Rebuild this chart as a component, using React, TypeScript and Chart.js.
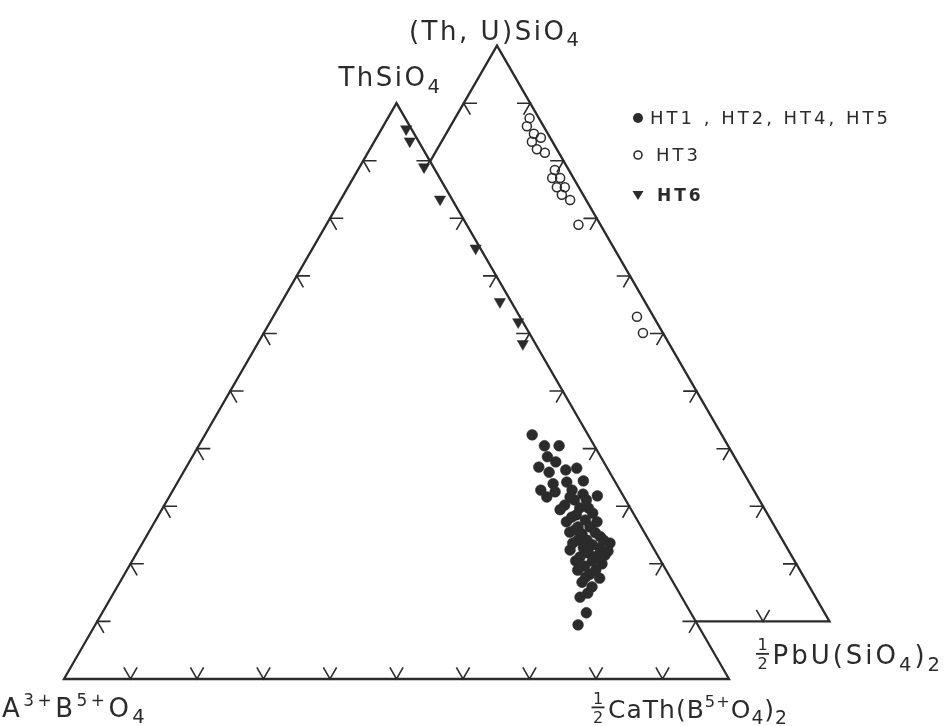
import { useEffect, useRef } from "react";
import { Chart, registerables } from "chart.js";

Chart.register(...registerables);

// ---------- DATA (mol %) ----------
// HT1, HT2, HT4, HT5 : front triangle  (ThSiO4 %, 1/2 CaTh(B5+O4)2 %; remainder = A3+B5+O4)
const HT1245_THSIO4 = [42.4, 40.5, 40.5, 38.6, 37.7, 36.8, 35.9, 36.3, 36.6, 33.9, 34.2, 34.4, 32.8, 31.6, 32.5, 32.8, 32.1, 31.8, 31.1, 30.2, 29.4, 29.7, 29.7, 28.8, 28.5, 27.3, 27.6, 26.4, 26.4, 25.5, 25.2, 25.4, 24.7, 24.1, 24.1, 23.6, 23.3, 22.8, 22.8, 22.4, 21.9, 21.4, 21.5, 21.2, 20.5, 20.0, 19.6, 18.9, 18.9, 18.2, 17.5, 16.8, 16.0, 14.9, 14.2, 11.5, 9.4, 31.6, 31.1, 28.1, 27.3, 25.9, 24.1, 23.6, 22.2, 20.5, 17.7];
const HT1245_CATH = [49.2, 52.0, 54.2, 53.4, 55.1, 53.0, 55.0, 57.3, 58.8, 56.6, 58.5, 60.9, 55.3, 56.8, 57.6, 60.0, 62.0, 64.3, 61.2, 60.2, 59.9, 62.7, 64.0, 65.1, 62.8, 61.9, 64.6, 64.1, 65.9, 63.3, 65.3, 67.2, 68.3, 66.6, 65.2, 70.3, 67.8, 66.7, 69.2, 64.9, 67.9, 69.5, 70.6, 67.0, 69.2, 70.9, 68.5, 70.5, 67.8, 70.0, 71.8, 69.5, 71.4, 71.3, 70.5, 72.8, 72.6, 60.3, 63.0, 62.3, 66.5, 63.9, 69.1, 64.7, 70.7, 66.7, 69.6];
// HT6 : front triangle
const HT6_THSIO4 = [95.5, 93.4, 88.9, 83.3, 74.8, 65.5, 62.0, 58.2];
const HT6_CATH = [3.7, 5.3, 9.7, 14.9, 24.5, 32.8, 37.3, 39.9];
// HT3 : back triangle  ((Th,U)SiO4 %, 1/2 PbU(SiO4)2 %)
const HT3_THUSIO4 = [87.4, 86.0, 84.7, 84.0, 83.3, 82.0, 81.4, 78.4, 77.0, 77.0, 75.4, 75.4, 74.1, 73.2, 68.9, 52.9, 50.1];
const HT3_PBU = [11.2, 11.5, 13.2, 14.6, 13.6, 15.0, 16.5, 19.5, 19.8, 21.0, 21.3, 22.5, 22.7, 24.4, 27.8, 44.6, 46.9];

const TICK_STEPS = [10, 20, 30, 40, 50, 60, 70, 80, 90];
const BACK_LEFT_STEPS = [10];
const BACK_BOTTOM_STEPS = [10];
const LEGEND_LABELS = ["HT1 , HT2, HT4, HT5", "HT3", "HT6"];

// ---------- GEOMETRY ----------
const INK = "#2b2b2b";
const H = Math.sqrt(3) / 2;
const BACK_SHIFT = { x: 0.1511, y: 0.0865 };
const TICK = 0.02;

type P = { x: number; y: number };
type Tri = { a: P; b: P; c: P };

const MAIN: Tri = { a: { x: 0, y: 0 }, b: { x: 1, y: 0 }, c: { x: 0.5, y: H } };
const BACK: Tri = {
  a: { x: BACK_SHIFT.x, y: BACK_SHIFT.y },
  b: { x: 1 + BACK_SHIFT.x, y: BACK_SHIFT.y },
  c: { x: 0.5 + BACK_SHIFT.x, y: H + BACK_SHIFT.y },
};

function tern(tri: Tri, top: number, right: number): P {
  const t = top / 100;
  const r = right / 100;
  return {
    x: tri.a.x + r * (tri.b.x - tri.a.x) + t * (tri.c.x - tri.a.x),
    y: tri.a.y + r * (tri.b.y - tri.a.y) + t * (tri.c.y - tri.a.y),
  };
}

function intersect(p1: P, p2: P, p3: P, p4: P): P {
  const d = (p1.x - p2.x) * (p3.y - p4.y) - (p1.y - p2.y) * (p3.x - p4.x);
  const a = p1.x * p2.y - p1.y * p2.x;
  const b = p3.x * p4.y - p3.y * p4.x;
  return {
    x: (a * (p3.x - p4.x) - (p1.x - p2.x) * b) / d,
    y: (a * (p3.y - p4.y) - (p1.y - p2.y) * b) / d,
  };
}

function ticks(p: P, q: P, steps: number[], arms: P[]): P[] {
  const out: P[] = [];
  for (const s of steps) {
    const f = s / 100;
    const e = { x: p.x + f * (q.x - p.x), y: p.y + f * (q.y - p.y) };
    out.push(
      { x: e.x + arms[0].x * TICK, y: e.y + arms[0].y * TICK },
      { x: e.x, y: e.y },
      { x: e.x + arms[1].x * TICK, y: e.y + arms[1].y * TICK },
      { x: NaN, y: NaN }
    );
  }
  return out;
}

const UP_L = { x: -0.5, y: H };
const UP_R = { x: 0.5, y: H };
const RIGHT = { x: 1, y: 0 };
const LEFT = { x: -1, y: 0 };
const DN_R = { x: 0.5, y: -H };
const DN_L = { x: -0.5, y: -H };

// scale ranges (data units = side of triangle)
const X_MIN = -0.0962, X_MAX = 1.3323, Y_MIN = -0.0707, Y_MAX = 1.0211;

type Seg = { t: string; k?: "sub" | "sup" };
function drawRich(ctx: CanvasRenderingContext2D, segs: Seg[], x: number, y: number, size: number) {
  let cx = x;
  for (const s of segs) {
    const fs = s.k === "sub" ? size * 0.75 : s.k === "sup" ? size * 0.65 : size;
    const dy = s.k === "sub" ? size * 0.25 : s.k === "sup" ? -size * 0.42 : 0;
    ctx.font = `${fs}px "DejaVu Sans"`;
    ctx.fillText(s.t, cx, y + dy);
    cx += ctx.measureText(s.t).width;
  }
  return cx;
}

function drawHalf(ctx: CanvasRenderingContext2D, cx: number, base: number) {
  ctx.save();
  (ctx as any).letterSpacing = "0px";
  ctx.font = '16px "DejaVu Sans"';
  ctx.textAlign = "center";
  ctx.fillText("1", cx, base - 14);
  ctx.fillText("2", cx, base + 5);
  ctx.fillRect(cx - 6.5, base - 11.5, 13, 1.8);
  ctx.restore();
}

const labelPlugin = {
  id: "ternaryLabels",
  afterDatasetsDraw(chart: any) {
    const { ctx } = chart;
    const sx = chart.scales.x;
    const sy = chart.scales.y;
    const px = (p: P) => ({ x: sx.getPixelForValue(p.x), y: sy.getPixelForValue(p.y) });
    ctx.save();
    ctx.fillStyle = INK;
    ctx.strokeStyle = INK;
    ctx.textBaseline = "alphabetic";
    ctx.textAlign = "left";

    ctx.letterSpacing = "2.5px";
    const c = px(MAIN.c);
    drawRich(ctx, [{ t: "ThSiO" }, { t: "4", k: "sub" }], c.x - 58, c.y - 17, 26);

    const c2 = px(BACK.c);
    drawRich(ctx, [{ t: "(Th, U)SiO" }, { t: "4", k: "sub" }], c2.x - 88, c2.y - 6, 26);

    ctx.letterSpacing = "3.5px";
    const a = px(MAIN.a);
    drawRich(ctx, [{ t: "A" }, { t: "3+", k: "sup" }, { t: "B" }, { t: "5+", k: "sup" }, { t: "O" }, { t: "4", k: "sub" }], a.x - 62, a.y + 38, 26);

    ctx.letterSpacing = "1px";
    const b = px(MAIN.b);
    drawHalf(ctx, b.x - 131, b.y + 39);
    drawRich(ctx, [{ t: "CaTh(B" }, { t: "5+", k: "sup" }, { t: "O" }, { t: "4", k: "sub" }, { t: ")" }, { t: "2", k: "sub" }], b.x - 121, b.y + 39, 25);

    ctx.letterSpacing = "3px";
    const b2 = px(BACK.b);
    drawHalf(ctx, b2.x - 67, b2.y + 43);
    drawRich(ctx, [{ t: "PbU(SiO" }, { t: "4", k: "sub" }, { t: ")" }, { t: "2", k: "sub" }], b2.x - 57, b2.y + 43, 26);

    // legend
    const lx = 638;
    const rows = [118, 155, 195];
    ctx.beginPath();
    ctx.arc(lx, rows[0], 5, 0, Math.PI * 2);
    ctx.fill();
    ctx.beginPath();
    ctx.lineWidth = 1.6;
    ctx.arc(lx, rows[1], 4, 0, Math.PI * 2);
    ctx.stroke();
    ctx.beginPath();
    ctx.moveTo(lx - 5.5, rows[2] - 4);
    ctx.lineTo(lx + 5.5, rows[2] - 4);
    ctx.lineTo(lx, rows[2] + 5);
    ctx.closePath();
    ctx.fill();
    ctx.letterSpacing = "3px";
    ctx.font = '18px "DejaVu Sans"';
    ctx.fillText(LEGEND_LABELS[0], 650, rows[0] + 6);
    ctx.fillText(LEGEND_LABELS[1], 656, rows[1] + 6);
    ctx.font = 'bold 17px "DejaVu Sans"';
    ctx.fillText(LEGEND_LABELS[2], 657, rows[2] + 6);
    ctx.restore();
  },
};

function pinRange(min: number, max: number) {
  return (scale: any) => {
    scale.min = min;
    scale.max = max;
  };
}

export default function App() {
  const ref = useRef<HTMLCanvasElement>(null);

  useEffect(() => {
    document.body.style.margin = "0";
    const j1 = intersect(BACK.c, BACK.a, MAIN.c, MAIN.b);
    const j2 = intersect(BACK.b, BACK.a, MAIN.c, MAIN.b);

    const tickPts = [
      ...ticks(MAIN.a, MAIN.b, TICK_STEPS, [UP_L, UP_R]),
      ...ticks(MAIN.a, MAIN.c, TICK_STEPS, [RIGHT, DN_R]),
      ...ticks(MAIN.c, MAIN.b, TICK_STEPS, [LEFT, DN_L]),
      ...ticks(BACK.c, BACK.b, TICK_STEPS, [LEFT, DN_L]),
      ...ticks(BACK.c, BACK.a, BACK_LEFT_STEPS, [RIGHT, DN_R]),
      ...ticks(BACK.b, BACK.a, BACK_BOTTOM_STEPS, [UP_L, UP_R]),
    ];

    const chart = new Chart(ref.current as HTMLCanvasElement, {
      type: "scatter",
      data: {
        datasets: [
          {
            label: "HT1, HT2, HT4, HT5",
            data: HT1245_THSIO4.map((t, i) => tern(MAIN, t, HT1245_CATH[i])),
            pointStyle: "circle",
            pointRadius: 5.4,
            backgroundColor: INK,
            borderColor: INK,
            borderWidth: 0.5,
            order: 0,
          },
          {
            label: "HT3",
            data: HT3_THUSIO4.map((u, i) => tern(BACK, u, HT3_PBU[i])),
            pointStyle: "circle",
            pointRadius: 4.5,
            backgroundColor: "rgba(255,255,255,0)",
            borderColor: INK,
            borderWidth: 1.5,
            order: 0,
          },
          {
            label: "HT6",
            data: HT6_THSIO4.map((t, i) => tern(MAIN, t, HT6_CATH[i])),
            pointStyle: "triangle",
            rotation: 180,
            pointRadius: 6.5,
            backgroundColor: INK,
            borderColor: INK,
            borderWidth: 0.5,
            order: 0,
          },
          {
            label: "front",
            data: [MAIN.a, MAIN.b, MAIN.c, MAIN.a, MAIN.b],
            showLine: true,
            pointRadius: 0,
            borderColor: INK,
            borderWidth: 2.3,
            borderJoinStyle: "miter",
            order: 1,
          },
          {
            label: "back",
            data: [j1, BACK.c, BACK.b, j2],
            showLine: true,
            pointRadius: 0,
            borderColor: INK,
            borderWidth: 2.3,
            borderJoinStyle: "miter",
            order: 1,
          },
          {
            label: "ticks",
            data: tickPts,
            showLine: true,
            spanGaps: false,
            pointRadius: 0,
            borderColor: INK,
            borderWidth: 1.6,
            order: 1,
          },
        ],
      },
      options: {
        animation: false,
        responsive: false,
        devicePixelRatio: 1,
        events: [],
        layout: { padding: 0, autoPadding: false },
        plugins: { legend: { display: false }, tooltip: { enabled: false } },
        scales: {
          x: { type: "linear", min: X_MIN, max: X_MAX, bounds: "data", display: false, afterBuildTicks: pinRange(X_MIN, X_MAX) },
          y: { type: "linear", min: Y_MIN, max: Y_MAX, bounds: "data", display: false, afterBuildTicks: pinRange(Y_MIN, Y_MAX) },
        },
      },
      plugins: [labelPlugin],
    } as any);
    return () => chart.destroy();
  }, []);

  return (
    <div style={{ position: "absolute", left: 0, top: 0, background: "#fff" }}>
      <canvas ref={ref} width={950} height={726} style={{ display: "block" }} />
    </div>
  );
}
